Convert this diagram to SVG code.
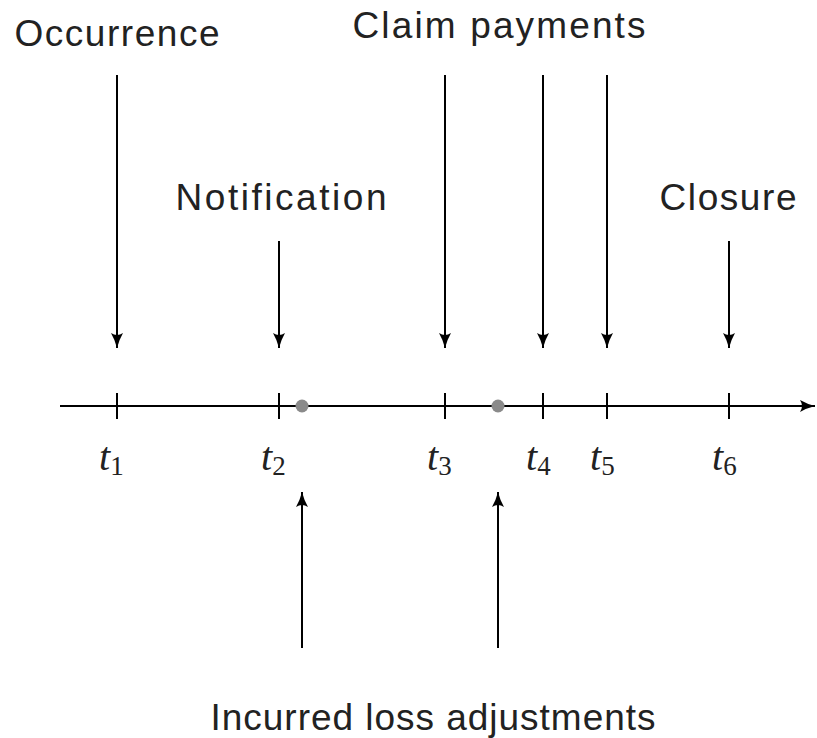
<svg xmlns="http://www.w3.org/2000/svg" width="817" height="738" viewBox="0 0 817 738">
<style>
.lbl{font-family:"Liberation Sans","DejaVu Sans",sans-serif;font-size:37px;fill:#222;text-anchor:middle}
.t{font-family:"Liberation Serif","DejaVu Serif",serif;font-size:40px;font-style:italic;fill:#222}
.sub{font-style:normal;font-size:27px}
.ln{stroke:#000;stroke-width:2;fill:none}
.arr{stroke:#000;stroke-width:2;fill:none;marker-end:url(#ah)}
.dot{fill:#8a8a8a}
</style>
<defs>
<marker id="ah" viewBox="0 0 16 14" refX="15" refY="7" markerWidth="16" markerHeight="14" markerUnits="userSpaceOnUse" orient="auto">
<path d="M0,1 Q7,5 15,7 Q7,9 0,13 Q4,7 0,1Z" fill="#000"/>
</marker>
</defs>
<g id="axis">
<line class="ln" x1="60" y1="406" x2="815" y2="406" style="marker-end:url(#ah)"/>
<line class="ln" x1="117" y1="393" x2="117" y2="419"/>
<line class="ln" x1="279" y1="393" x2="279" y2="419"/>
<line class="ln" x1="445" y1="393" x2="445" y2="419"/>
<line class="ln" x1="543" y1="393" x2="543" y2="419"/>
<line class="ln" x1="607" y1="393" x2="607" y2="419"/>
<line class="ln" x1="729" y1="393" x2="729" y2="419"/>
<circle class="dot" cx="302" cy="406" r="6.5"/>
<circle class="dot" cx="498" cy="406" r="6.5"/>
</g>
<g id="ticklabels">
<text class="t" x="99" y="470">t<tspan class="sub" dy="5">1</tspan></text>
<text class="t" x="261" y="470">t<tspan class="sub" dy="5">2</tspan></text>
<text class="t" x="427" y="470">t<tspan class="sub" dy="5">3</tspan></text>
<text class="t" x="526" y="470">t<tspan class="sub" dy="5">4</tspan></text>
<text class="t" x="590" y="470">t<tspan class="sub" dy="5">5</tspan></text>
<text class="t" x="712" y="470">t<tspan class="sub" dy="5">6</tspan></text>
</g>
<g id="occurrence"><text class="lbl" x="117" y="46" textLength="205" lengthAdjust="spacing">Occurrence</text></g>
<g id="claim-payments"><text class="lbl" x="499" y="38" textLength="293" lengthAdjust="spacing">Claim payments</text></g>
<g id="notification"><text class="lbl" x="281" y="210" textLength="211" lengthAdjust="spacing">Notification</text></g>
<g id="closure"><text class="lbl" x="728" y="210" textLength="137" lengthAdjust="spacing">Closure</text></g>
<g id="incurred"><text class="lbl" x="433" y="730" textLength="445" lengthAdjust="spacing">Incurred loss adjustments</text></g>
<g id="connectors">
<line class="arr" x1="117" y1="75" x2="117" y2="348"/>
<line class="arr" x1="279" y1="241" x2="279" y2="348"/>
<line class="arr" x1="445" y1="75" x2="445" y2="348"/>
<line class="arr" x1="543" y1="75" x2="543" y2="348"/>
<line class="arr" x1="607" y1="75" x2="607" y2="348"/>
<line class="arr" x1="729" y1="241" x2="729" y2="348"/>
<line class="arr" x1="302" y1="648" x2="302" y2="492"/>
<line class="arr" x1="498" y1="648" x2="498" y2="492"/>
</g>
</svg>
